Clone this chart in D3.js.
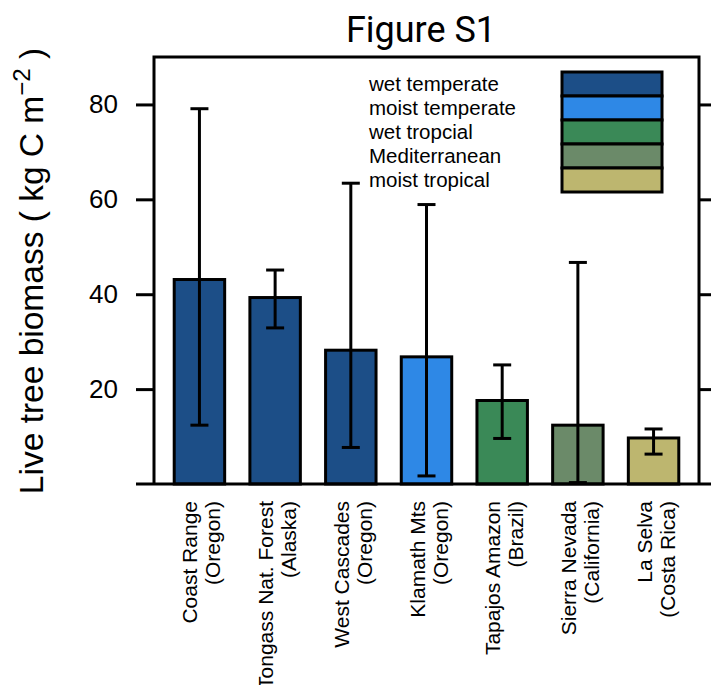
<!DOCTYPE html>
<html>
<head>
<meta charset="utf-8">
<script src="https://cdn.jsdelivr.net/npm/d3@7"></script>
<style>
  body { margin: 0; background: #fff; }
  text { font-family: "Liberation Sans", Arial, Helvetica, sans-serif; fill: #000; }
</style>
</head>
<body>
<svg id="chart"></svg>
<script>
var sites = ["Coast Range", "Tongass Nat. Forest", "West Cascades", "Klamath Mts", "Tapajos Amazon", "Sierra Nevada", "La Selva"];
var regions = ["(Oregon)", "(Alaska)", "(Oregon)", "(Oregon)", "(Brazil)", "(California)", "(Costa Rica)"];
var biomass = [43.1, 39.3, 28.2, 26.8, 17.6, 12.4, 9.7];
var upper = [79.1, 45.1, 63.4, 58.9, 25.1, 46.7, 11.6];
var lower = [12.4, 32.9, 7.7, 1.7, 9.6, 0.3, 6.3];
var climate = ["wet temperate", "wet temperate", "wet temperate", "moist temperate", "wet tropcial", "Mediterranean", "moist tropical"];

var legendLabels = ["wet temperate", "moist temperate", "wet tropcial", "Mediterranean", "moist tropical"];
var legendColors = ["#1c4e87", "#2e88e6", "#3a8957", "#6b8a69", "#bdb66f"];
var yTicks = [20, 40, 60, 80];

var width = 711, height = 685;
var margin = { top: 57, right: 12, bottom: 201, left: 154 };

var svg = d3.select("#chart").attr("width", width).attr("height", height);

var x = d3.scaleBand()
  .domain(sites)
  .range([margin.left, width - margin.right])
  .paddingInner(1 / 3)
  .paddingOuter(0.267);

var y = d3.scaleLinear()
  .domain([0, 90])
  .range([height - margin.bottom, margin.top]);

var color = d3.scaleOrdinal().domain(legendLabels).range(legendColors);

var data = sites.map(function (s, i) {
  return { site: s, region: regions[i], value: biomass[i], hi: upper[i], lo: lower[i], climate: climate[i] };
});

// bars
svg.selectAll("rect.bar")
  .data(data)
  .enter()
  .append("rect")
  .attr("class", "bar")
  .attr("x", function (d) { return x(d.site); })
  .attr("y", function (d) { return y(d.value); })
  .attr("width", x.bandwidth())
  .attr("height", function (d) { return y(0) - y(d.value); })
  .attr("fill", function (d) { return color(d.climate); })
  .attr("stroke", "#000")
  .attr("stroke-width", 3);

// error bars
var err = svg.append("g").attr("stroke", "#000").attr("stroke-width", 3);
data.forEach(function (d) {
  var cx = x(d.site) + x.bandwidth() / 2;
  err.append("line").attr("x1", cx).attr("x2", cx).attr("y1", y(d.lo)).attr("y2", y(d.hi));
  err.append("line").attr("x1", cx - 9).attr("x2", cx + 9).attr("y1", y(d.hi)).attr("y2", y(d.hi));
  err.append("line").attr("x1", cx - 9).attr("x2", cx + 9).attr("y1", y(d.lo)).attr("y2", y(d.lo));
});

// frame
var x0 = margin.left, x1 = width - margin.right;
svg.append("path")
  .attr("d", "M" + x0 + "," + y(0) + "V" + margin.top + "H" + x1 + "V" + y(0))
  .attr("fill", "none")
  .attr("stroke", "#000")
  .attr("stroke-width", 3);
svg.append("line")
  .attr("x1", x0 - 18).attr("x2", width)
  .attr("y1", y(0)).attr("y2", y(0))
  .attr("stroke", "#000").attr("stroke-width", 3);

// left axis
var yAxis = d3.axisLeft(y).tickValues(yTicks).tickSize(18).tickPadding(18);
svg.append("g")
  .attr("transform", "translate(" + x0 + ",0)")
  .call(yAxis)
  .call(function (g) {
    g.select(".domain").remove();
    g.selectAll(".tick line").attr("stroke-width", 3);
    g.selectAll(".tick text")
      .attr("font-family", "Liberation Sans, Arial, sans-serif")
      .attr("font-size", 26)
      .attr("fill", "#000");
  });

// right axis (ticks only)
svg.append("g")
  .attr("transform", "translate(" + x1 + ",0)")
  .call(d3.axisRight(y).tickValues(yTicks).tickSize(18).tickFormat(""))
  .call(function (g) {
    g.select(".domain").remove();
    g.selectAll(".tick line").attr("stroke-width", 3);
  });

// x labels (rotated, two lines)
data.forEach(function (d) {
  var cx = x(d.site) + x.bandwidth() / 2;
  var g = svg.append("g").attr("transform", "translate(" + (cx - 2) + ",501) rotate(-90)");
  g.append("text").attr("text-anchor", "end").attr("font-size", 21).text(d.site);
  g.append("text").attr("text-anchor", "end").attr("font-size", 21).attr("y", 23).text(d.region);
});

// y title
var yt = svg.append("text")
  .attr("transform", "translate(43,271) rotate(-90)")
  .attr("text-anchor", "middle")
  .attr("font-size", 33.5);
yt.append("tspan").text("Live tree biomass ( kg C m");
yt.append("tspan").attr("dy", -13).attr("font-size", 24).text("\u22122");
yt.append("tspan").attr("dy", 13).text(" )");

// title
svg.append("text")
  .attr("x", 421)
  .attr("y", 42)
  .attr("text-anchor", "middle")
  .style("font-family", "Roboto, 'Liberation Sans', sans-serif")
  .attr("font-size", 36)
  .text("Figure S1");

// legend
var legend = svg.append("g");
legendLabels.forEach(function (l, i) {
  var cy = 84 + i * 24;
  legend.append("rect")
    .attr("x", 562).attr("y", cy - 12)
    .attr("width", 100).attr("height", 24)
    .attr("fill", color(l))
    .attr("stroke", "#000").attr("stroke-width", 3);
  legend.append("text")
    .attr("x", 369).attr("y", cy)
    .attr("dy", "0.35em")
    .attr("font-size", 20.5)
    .text(l);
});
</script>
</body>
</html>
